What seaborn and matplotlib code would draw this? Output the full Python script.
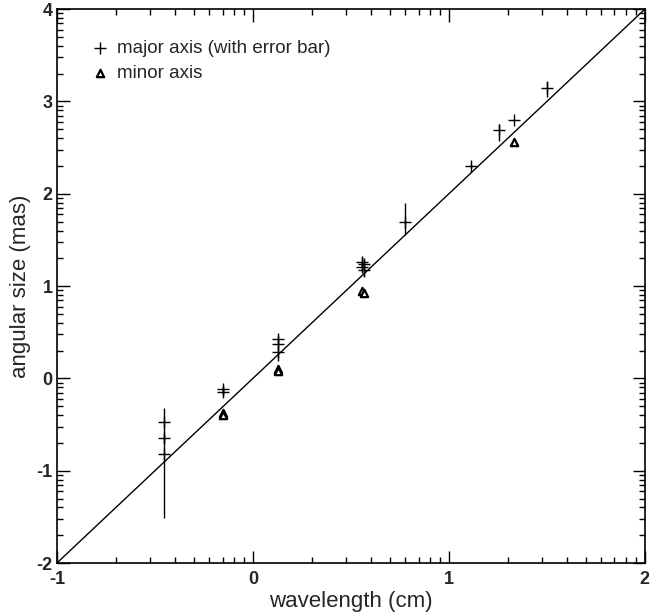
import numpy as np
import pandas as pd
import matplotlib
matplotlib.use("Agg")
import matplotlib.pyplot as plt
import seaborn as sns
from matplotlib.ticker import FixedLocator

# log10 wavelength (cm) and log10 angular size (mas), major axis, with asymmetric errors
major_x = [-0.456, -0.456, -0.456, -0.155, -0.155, 0.130, 0.130, 0.130,
           0.556, 0.556, 0.568, 0.568, 0.778, 1.114, 1.255, 1.330, 1.500]
major_y = [-0.47, -0.65, -0.82, -0.115, -0.15, 0.43, 0.37, 0.29,
           1.26, 1.21, 1.24, 1.17, 1.69, 2.30, 2.69, 2.80, 3.15]
major_err_lo = [0.15, 0.05, 0.69, 0.03, 0.03, 0.04, 0.04, 0.10,
                0.05, 0.05, 0.05, 0.07, 0.14, 0.02, 0.12, 0.01, 0.10]
major_err_hi = [0.15, 0.05, 0.20, 0.03, 0.03, 0.04, 0.04, 0.04,
                0.05, 0.05, 0.05, 0.05, 0.21, 0.02, 0.07, 0.01, 0.07]

# minor axis sizes
minor_x = [-0.155, -0.155, 0.130, 0.130, 0.556, 0.568, 1.330]
minor_y = [-0.38, -0.40, 0.10, 0.08, 0.95, 0.93, 2.56]

# straight-line fit
fit_x = [-1.0, 2.0]
fit_y = [-2.0, 4.0]

sns.set_style("ticks")
plt.rcParams['font.family'] = ['Liberation Sans', 'DejaVu Sans']

fig = plt.figure(figsize=(6.54, 6.12), dpi=100)
ax = fig.add_axes([0.087, 0.080, 0.899, 0.905])

major = pd.DataFrame({"x": major_x, "y": major_y})
minor = pd.DataFrame({"x": minor_x, "y": minor_y})

sns.lineplot(x=fit_x, y=fit_y, ax=ax, color="black", lw=1.0, legend=False)

ax.errorbar(major_x, major_y, yerr=[major_err_lo, major_err_hi], fmt="none",
            ecolor="black", elinewidth=1.0, capsize=0)
sns.scatterplot(data=major, x="x", y="y", ax=ax, marker="+", s=80,
                color="black", linewidth=1.0, label="major axis (with error bar)")
sns.scatterplot(data=minor, x="x", y="y", ax=ax, marker="^", s=28,
                facecolor="white", edgecolor="black", linewidth=1.6,
                label="minor axis")

ax.set_xlim(-1, 2)
ax.set_ylim(-2, 4)
ax.set_xticks([-1, 0, 1, 2])
ax.set_yticks([-2, -1, 0, 1, 2, 3, 4])
ax.set_xticklabels(["-1", "0", "1", "2"], fontweight="bold", fontsize=13)
ax.set_yticklabels(["-2", "-1", "0", "1", "2", "3", "4"], fontweight="bold", fontsize=13)

# logarithmic minor ticks inside each decade
sub = np.log10(np.arange(2, 10))
ax.xaxis.set_minor_locator(FixedLocator(np.concatenate([d + sub for d in range(-1, 2)])))
ax.yaxis.set_minor_locator(FixedLocator(np.concatenate([d + sub for d in range(-2, 4)])))

ax.tick_params(which="both", direction="in", top=True, right=True,
               color="black", width=1.0)
ax.tick_params(which="major", length=9)
ax.tick_params(axis="x", which="major", pad=6)
ax.tick_params(axis="y", which="major", pad=3)
ax.tick_params(which="minor", length=4)
for s in ax.spines.values():
    s.set_color("black")
    s.set_linewidth(1.2)

ax.set_xlabel("wavelength (cm)", fontsize=16, labelpad=2)
ax.set_ylabel("angular size (mas)", fontsize=16, labelpad=4)

leg = ax.legend(loc="upper left", frameon=False, fontsize=13.5,
                handletextpad=0.2, handlelength=1.4, labelspacing=0.4,
                bbox_to_anchor=(0.022, 0.975))

fig.savefig("out.png", dpi=100)
